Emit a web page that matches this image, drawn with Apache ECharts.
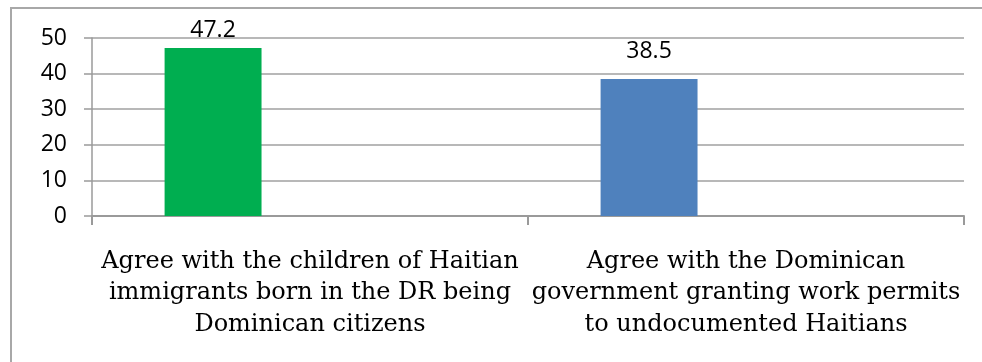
<!DOCTYPE html>
<html>
<head>
<meta charset="utf-8">
<style>
  html, body { margin: 0; padding: 0; background: #ffffff; }
  #chart { width: 982px; height: 362px; }
</style>
<script src="https://cdn.jsdelivr.net/npm/echarts@6/dist/echarts.min.js"></script>
</head>
<body>
<div id="chart"></div>
<script>
// Survey results: share agreeing with each statement (%)
const categories = [
  'Agree with the children of Haitian\nimmigrants born in the DR being\nDominican citizens',
  'Agree with the Dominican\ngovernment granting work permits\nto undocumented Haitians'
];
const values = [47.2, 38.5];
const barColors = ['#00ae50', '#4f81bd'];
const labelGaps = [6, 16];
const yTicks = { min: 0, max: 50, step: 10 };

const chart = echarts.init(document.getElementById('chart'), null, { renderer: 'canvas' });

const sansFont = '"Open Sans", "Liberation Sans", sans-serif';
const serifFont = '"DejaVu Serif", "Liberation Serif", serif';

const mainData = values.map((v, i) => ({
  value: v,
  itemStyle: { color: barColors[i] },
  label: { distance: labelGaps[i] }
}));

// Two empty series keep the clustered slot layout (first slot used in each group)
const emptyData = values.map(() => '-');

chart.setOption({
  animation: false,
  backgroundColor: '#ffffff',
  graphic: [{
    type: 'rect',
    shape: { x: 11, y: 8, width: 1000, height: 400 },
    style: { fill: 'none', stroke: '#a8a8a8', lineWidth: 2 },
    silent: true,
    z: 100
  }],
  grid: { left: 92, right: 18, top: 38, bottom: 146, containLabel: false },
  xAxis: {
    type: 'category',
    data: categories,
    boundaryGap: true,
    axisLine: { show: true, lineStyle: { color: '#9a9a9a', width: 2 } },
    axisTick: { show: true, alignWithLabel: false, length: 9, lineStyle: { color: '#9a9a9a', width: 2 } },
    axisLabel: {
      interval: 0,
      margin: 30,
      color: '#000000',
      fontFamily: serifFont,
      fontSize: 24,
      lineHeight: 31.5,
      align: 'center'
    },
    splitLine: { show: false }
  },
  yAxis: {
    type: 'value',
    min: yTicks.min,
    max: yTicks.max,
    interval: yTicks.step,
    axisLine: { show: true, lineStyle: { color: '#9a9a9a', width: 1.5 } },
    axisTick: { show: true, length: 8, lineStyle: { color: '#9a9a9a', width: 1.5 } },
    axisLabel: {
      margin: 25,
      color: '#000000',
      fontFamily: sansFont,
      fontSize: 23
    },
    splitLine: { show: true, lineStyle: { color: '#a0a0a0', width: 1.5 } }
  },
  series: [
    {
      type: 'bar',
      data: mainData,
      barGap: '0%',
      barCategoryGap: '33.3%',
      label: {
        show: true,
        position: 'top',
        color: '#000000',
        fontFamily: sansFont,
        fontSize: 23
      },
      z: 3
    },
    { type: 'bar', data: emptyData },
    { type: 'bar', data: emptyData }
  ]
});
</script>
</body>
</html>
